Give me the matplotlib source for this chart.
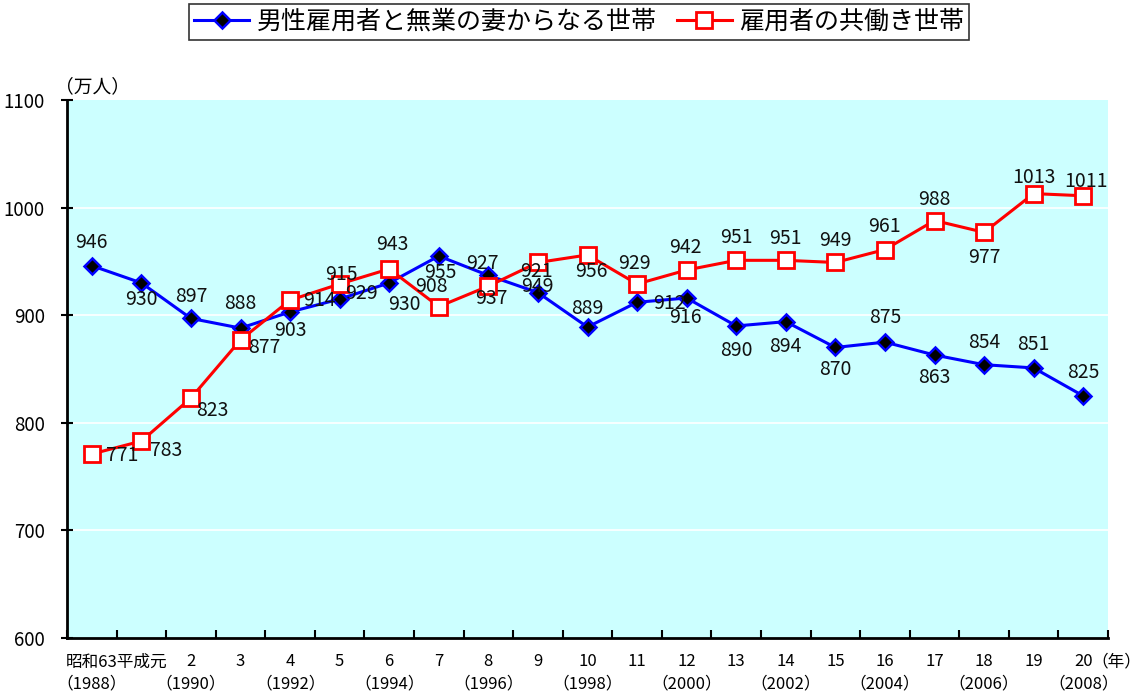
import matplotlib
matplotlib.use("Agg")
import matplotlib.pyplot as plt
import matplotlib.transforms as mtransforms

plt.rcParams['font.family'] = ['Noto Sans CJK JP', 'DejaVu Sans']

years = list(range(1988, 2009))
era_labels = ["", "", "2", "3", "4", "5", "6", "7", "8", "9", "10", "11", "12",
              "13", "14", "15", "16", "17", "18", "19", "20"]
year_labels = ["（1988）", "", "（1990）", "", "（1992）", "", "（1994）", "", "（1996）", "",
               "（1998）", "", "（2000）", "", "（2002）", "", "（2004）", "", "（2006）", "",
               "（2008）"]
series_single = [946, 930, 897, 888, 903, 915, 930, 955, 937, 921, 889, 912, 916,
                 890, 894, 870, 875, 863, 854, 851, 825]
series_dual = [771, 783, 823, 877, 914, 929, 943, 908, 927, 949, 956, 929, 942,
               951, 951, 949, 961, 988, 977, 1013, 1011]
name_single = "男性雇用者と無業の妻からなる世帯"
name_dual = "雇用者の共働き世帯"

# label offsets in pixels (dx, dy)
off_single = [(0, 23), (0, -17), (0, 22), (0, 25), (0, -19), (2, 25), (15, -22), (2, -16),
              (3, -23), (-1, 21), (0, 19), (32, -1), (-1, -20), (0, -25), (0, -25),
              (0, -22), (0, 25), (0, -22), (0, 22), (0, 23), (0, 23)]
off_dual = [(30, -1), (25, -9), (21, -12), (24, -8), (29, 0), (22, -10), (3, 24), (-7, 20),
            (-6, 23), (-1, -24), (4, -17), (-3, 20), (-1, 23), (0, 23), (0, 22), (0, 22),
            (0, 23), (0, 21), (0, -25), (0, 16), (3, 14)]

fig = plt.figure(figsize=(11.41, 6.93), dpi=100)
ax = fig.add_axes([67/1141, 55/693, (1108-67)/1141, (638-100)/693])
ax.set_facecolor('#CCFFFF')

x = list(range(len(years)))
ax.set_xlim(-0.5, len(years) - 0.5)
ax.set_ylim(600, 1100)

for yv in [700, 800, 900, 1000]:
    ax.axhline(yv, color='white', lw=1.2, zorder=1)

l1, = ax.plot(x, series_single, color='#0000FF', lw=2.2, marker='D', markersize=8,
              markerfacecolor='black', markeredgecolor='#0000FF', markeredgewidth=1.8,
              zorder=3, label=name_single)
l2, = ax.plot(x, series_dual, color='#FF0000', lw=2.2, marker='s', markersize=11,
              markerfacecolor='white', markeredgecolor='#FF0000', markeredgewidth=2,
              zorder=4, label=name_dual)

lab_fs = 14
for i, v in enumerate(series_single):
    ax.annotate(str(v), (i, v), xytext=off_single[i], textcoords='offset pixels',
                ha='center', va='center', fontsize=lab_fs, color='#111111', zorder=6)
for i, v in enumerate(series_dual):
    ax.annotate(str(v), (i, v), xytext=off_dual[i], textcoords='offset pixels',
                ha='center', va='center', fontsize=lab_fs, color='#111111', zorder=6)

for s in ['top', 'right']:
    ax.spines[s].set_visible(False)
ax.spines['left'].set_linewidth(2)
ax.spines['bottom'].set_linewidth(2)

ax.set_yticks([600, 700, 800, 900, 1000, 1100])
ax.tick_params(axis='y', direction='inout', length=8, width=1.5, labelsize=13.5, pad=12)
ax.set_xticks([i + 0.5 for i in range(-1, len(years))])
ax.set_xticklabels([])
ax.tick_params(axis='x', direction='in', length=6, width=1.5)

trans = mtransforms.blended_transform_factory(ax.transData, fig.transFigure)
xfs = 12
for i in range(len(years)):
    if era_labels[i]:
        ax.text(i, 1 - 662/693, era_labels[i], transform=trans, ha='center', va='center',
                fontsize=xfs)
    if year_labels[i]:
        ax.text(i, 1 - 684/693, year_labels[i], transform=trans, ha='center', va='center',
                fontsize=xfs)
ax.text(0.5, 1 - 662/693, "昭和63平成元", transform=trans, ha='center', va='center',
        fontsize=xfs)
fig.text(1116/1141, 1 - 662/693, "（年）", ha='center', va='center', fontsize=xfs)
fig.text(92/1141, 1 - 87/693, "（万人）", ha='center', va='center', fontsize=13.5)

leg = fig.legend(handles=[l1, l2], loc='center', bbox_to_anchor=(579/1141, 1 - 22/693),
                 ncol=2, fontsize=18, frameon=True, fancybox=False, edgecolor='black',
                 handlelength=2.2, columnspacing=0.8, handletextpad=0.3,
                 borderpad=0.2)
leg.get_frame().set_linewidth(1.2)

fig.savefig("out.png", dpi=100)
